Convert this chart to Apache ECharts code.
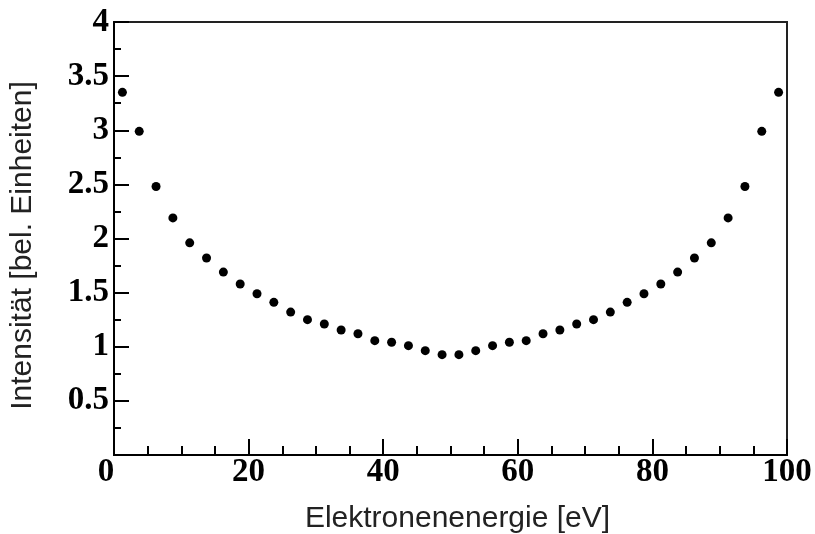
<!DOCTYPE html>
<html>
<head>
<meta charset="utf-8">
<script src="https://cdn.jsdelivr.net/npm/echarts@6/dist/echarts.min.js"></script>
<style>html,body{margin:0;padding:0;background:#fff}#c{width:815px;height:534px}</style>
</head>
<body>
<div id="c"></div>
<script>
const energies = [1.25,3.75,6.25,8.75,11.25,13.75,16.25,18.75,21.25,23.75,26.25,28.75,31.25,33.75,36.25,38.75,41.25,43.75,46.25,48.75,
                  51.25,53.75,56.25,58.75,61.25,63.75,66.25,68.75,71.25,73.75,76.25,78.75,81.25,83.75,86.25,88.75,91.25,93.75,96.25,98.75];
const intensity = [3.35,2.99,2.48,2.19,1.96,1.82,1.69,1.58,1.49,1.41,1.32,1.25,1.21,1.155,1.12,1.056,1.042,1.01,0.964,0.927,
                   0.927,0.964,1.01,1.042,1.056,1.12,1.155,1.21,1.25,1.32,1.41,1.49,1.58,1.69,1.82,1.96,2.19,2.48,2.99,3.35];
const xTitle = 'Elektronenenergie [eV]';
const yTitle = 'Intensität [bel. Einheiten]';

const points = energies.map((e, i) => [e, intensity[i]]);
const chart = echarts.init(document.getElementById('c'), null, {renderer: 'canvas'});
const tickFont = {fontFamily: 'Liberation Serif', fontWeight: 'bold', fontSize: 33, color: '#000'};
chart.setOption({
  animation: false,
  backgroundColor: '#fff',
  grid: {left: 114, right: 28, top: 22, bottom: 79, show: true, borderColor: '#222', borderWidth: 2,
         backgroundColor: 'transparent', containLabel: false, outerBoundsMode: 'none'},
  xAxis: {
    type: 'value', min: 0, max: 100, interval: 20,
    name: xTitle, nameLocation: 'middle', nameGap: 49, nameMoveOverlap: false,
    nameTextStyle: {fontFamily: 'Liberation Sans', fontSize: 30, color: '#222', padding: [0, 0, 0, 14]},
    axisLine: {show: true, onZero: false, lineStyle: {color: '#000', width: 2}},
    axisTick: {show: true, inside: true, length: 16, lineStyle: {color: '#000', width: 2}},
    minorTick: {show: true, splitNumber: 4, length: 9, lineStyle: {color: '#000', width: 2}},
    splitLine: {show: false},
    axisLabel: Object.assign({}, tickFont, {
      margin: 1,
      formatter: v => v === 0 ? '{z|0}' : String(v),
      rich: {z: Object.assign({}, tickFont, {padding: [0, 16, 0, 0]})}
    })
  },
  yAxis: {
    type: 'value', min: 0, max: 4, interval: 0.5,
    name: yTitle, nameLocation: 'middle', nameGap: 76, nameRotate: 90, nameMoveOverlap: false,
    nameTextStyle: {fontFamily: 'Liberation Sans', fontSize: 30, color: '#222', padding: [0, 14, 0, 0]},
    axisLine: {show: true, onZero: false, lineStyle: {color: '#000', width: 2}},
    axisTick: {show: true, inside: true, length: 15, lineStyle: {color: '#000', width: 2}},
    minorTick: {show: true, splitNumber: 2, length: 7, lineStyle: {color: '#000', width: 2}},
    splitLine: {show: false},
    axisLabel: Object.assign({}, tickFont, {
      margin: 5,
      formatter: v => v === 0 ? '' : String(v)
    })
  },
  series: [{
    type: 'scatter',
    data: points,
    symbol: 'circle',
    symbolSize: 9,
    itemStyle: {color: '#000', opacity: 1}
  }]
});
</script>
</body>
</html>
